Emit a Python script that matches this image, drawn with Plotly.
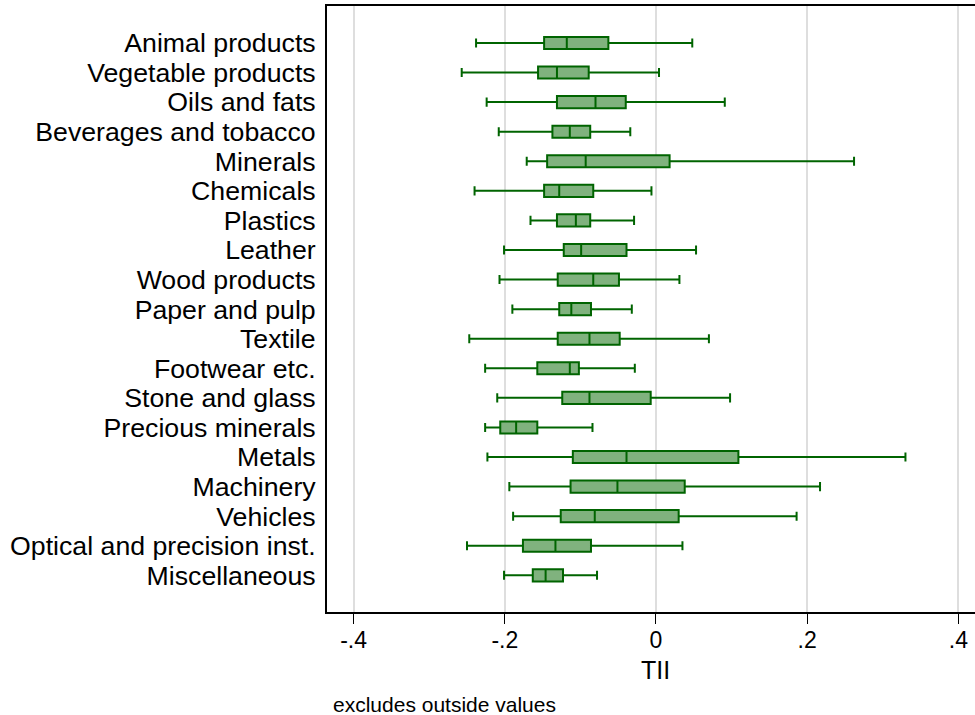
import plotly.graph_objects as go

# HS sections, top to bottom
sections = [
    "Animal products", "Vegetable products", "Oils and fats", "Beverages and tobacco",
    "Minerals", "Chemicals", "Plastics", "Leather", "Wood products", "Paper and pulp",
    "Textile", "Footwear etc.", "Stone and glass", "Precious minerals", "Metals",
    "Machinery", "Vehicles", "Optical and precision inst.", "Miscellaneous",
]

# Box-plot summary of TII by section (outside values excluded)
lower_whisker = [-0.238, -0.257, -0.224, -0.208, -0.171, -0.240, -0.166, -0.201, -0.207, -0.190,
                 -0.247, -0.226, -0.210, -0.226, -0.223, -0.194, -0.189, -0.250, -0.201]
q1 = [-0.148, -0.156, -0.131, -0.137, -0.144, -0.148, -0.131, -0.122, -0.130, -0.128,
      -0.130, -0.157, -0.124, -0.206, -0.110, -0.113, -0.126, -0.176, -0.163]
median = [-0.118, -0.131, -0.080, -0.114, -0.093, -0.128, -0.106, -0.099, -0.083, -0.112,
          -0.088, -0.114, -0.088, -0.185, -0.039, -0.051, -0.081, -0.133, -0.146]
q3 = [-0.063, -0.089, -0.040, -0.087, 0.018, -0.083, -0.087, -0.039, -0.049, -0.086,
      -0.048, -0.102, -0.007, -0.157, 0.109, 0.038, 0.030, -0.086, -0.123]
upper_whisker = [0.048, 0.004, 0.091, -0.034, 0.262, -0.006, -0.029, 0.053, 0.031, -0.032,
                 0.070, -0.028, 0.098, -0.084, 0.330, 0.217, 0.186, 0.035, -0.078]

x_ticks = [-0.4, -0.2, 0, 0.2, 0.4]
x_tick_text = ["-.4", "-.2", "0", ".2", ".4"]

LINE = "rgb(0,100,0)"
FILL = "rgb(128,178,126)"
FONT = "Liberation Sans, Arial, Helvetica, sans-serif"

W, H = 975, 715
L, R, T, B = 327, 0, 6, 103

fig = go.Figure()
fig.add_trace(go.Box(
    y=sections,
    q1=q1, median=median, q3=q3,
    lowerfence=lower_whisker, upperfence=upper_whisker,
    orientation="h",
    fillcolor=FILL,
    line=dict(color=LINE, width=2),
    whiskerwidth=0.75,
    width=0.41,
    boxpoints=False,
    hoverinfo="skip",
    showlegend=False,
))

fig.update_layout(
    width=W, height=H,
    margin=dict(l=L, r=R, t=T, b=B, pad=0),
    plot_bgcolor="white",
    paper_bgcolor="white",
    font=dict(family=FONT, color="black"),
    xaxis=dict(
        range=[-0.4352, 0.4220],
        tickvals=x_ticks, ticktext=x_tick_text,
        tickfont=dict(size=23),
        ticks="outside", ticklen=10, tickwidth=1.3, tickcolor="black",
        ticklabelstandoff=-4,
        showgrid=True, gridcolor="rgb(222,222,222)", gridwidth=2,
        showline=True, linecolor="black", linewidth=2, mirror=True,
        zeroline=False,
    ),
    yaxis=dict(
        categoryorder="array", categoryarray=sections,
        tickmode="array", tickvals=sections, ticktext=sections,
        range=[19.24, -1.25],
        tickfont=dict(size=26.7),
        ticks="", ticklabelstandoff=4,
        showgrid=False, zeroline=False,
        showline=True, linecolor="black", linewidth=2,
    ),
    annotations=[
        dict(text="TII", x=0, xref="x", y=-0.095, yref="paper",
             xanchor="center", yanchor="middle", showarrow=False,
             font=dict(size=25, family=FONT, color="black")),
        dict(text="excludes outside values", x=0.0065, xref="paper", y=-0.152, yref="paper",
             xanchor="left", yanchor="middle", showarrow=False,
             font=dict(size=21, family=FONT, color="black")),
    ],
)

fig.write_html("out.html")
